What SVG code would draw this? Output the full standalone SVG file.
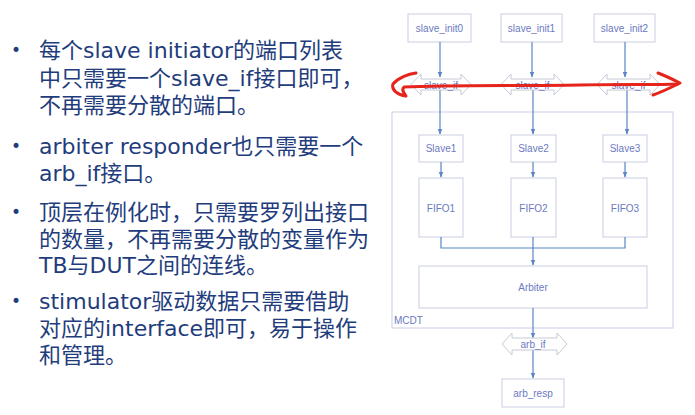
<svg xmlns="http://www.w3.org/2000/svg" width="695" height="415" viewBox="0 0 695 415">
<defs>
<style>
.bt{font-family:"DejaVu Sans","Noto Sans CJK SC",sans-serif;font-size:22px;fill:#1f3d7c}
.bul{font-family:"DejaVu Sans",sans-serif;font-size:17px;fill:#1f3d7c}
.box{fill:#fff;stroke:#c9cde2;stroke-width:1}
.lbl{font-family:"Liberation Sans",Arial,sans-serif;font-size:10px;fill:#6b79c2;text-anchor:middle;dominant-baseline:central}
.dbl{fill:#fff;fill-opacity:0.85;stroke:#c6cad6;stroke-width:1}
.con{fill:none;stroke:#5a86c4;stroke-width:1.2}
.red{fill:none;stroke:#e5251b;stroke-width:3;stroke-linecap:round;stroke-linejoin:round}
</style>
<marker id="ah" viewBox="0 0 10 10" refX="9" refY="5" markerWidth="6" markerHeight="6" orient="auto" markerUnits="userSpaceOnUse">
<path d="M0,1 L10,5 L0,9 Z" fill="#5a86c4"/>
</marker>
</defs>
<rect width="695" height="415" fill="#fff"/>

<g id="bullets">
<text class="bul" x="11" y="56">•</text>
<text class="bt" x="39" y="58">每个slave initiator的端口列表</text>
<text class="bt" x="39" y="86">中只需要一个slave_if接口即可，</text>
<text class="bt" x="39" y="113">不再需要分散的端口。</text>
<text class="bul" x="11" y="152">•</text>
<text class="bt" x="39" y="154">arbiter responder也只需要一个</text>
<text class="bt" x="39" y="181">arb_if接口。</text>
<text class="bul" x="11" y="218">•</text>
<text class="bt" x="39" y="220">顶层在例化时，只需要罗列出接口</text>
<text class="bt" x="39" y="247">的数量，不再需要分散的变量作为</text>
<text class="bt" x="39" y="273">TB与DUT之间的连线。</text>
<text class="bul" x="11" y="307">•</text>
<text class="bt" x="39" y="309">stimulator驱动数据只需要借助</text>
<text class="bt" x="39" y="336">对应的interface即可，易于操作</text>
<text class="bt" x="39" y="363">和管理。</text>
</g>

<g id="MCDT">
<rect class="box" x="392" y="112" width="281" height="216"/>
<text class="lbl" x="394" y="320" style="text-anchor:start">MCDT</text>
</g>

<g id="slave_init0"><rect class="box" x="408" y="14" width="63" height="28"/><text class="lbl" x="439.5" y="28">slave_init0</text></g>
<g id="slave_init1"><rect class="box" x="501" y="14" width="61" height="28"/><text class="lbl" x="531.5" y="28">slave_init1</text></g>
<g id="slave_init2"><rect class="box" x="594" y="14" width="61" height="28"/><text class="lbl" x="624.5" y="28">slave_init2</text></g>

<g id="Slave1"><rect class="box" x="419" y="135" width="44" height="27"/><text class="lbl" x="441" y="148.5">Slave1</text></g>
<g id="Slave2"><rect class="box" x="511" y="135" width="45" height="27"/><text class="lbl" x="533.5" y="148.5">Slave2</text></g>
<g id="Slave3"><rect class="box" x="603" y="135" width="44" height="27"/><text class="lbl" x="625" y="148.5">Slave3</text></g>

<g id="FIFO1"><rect class="box" x="419" y="178" width="44" height="59"/><text class="lbl" x="441" y="208">FIFO1</text></g>
<g id="FIFO2"><rect class="box" x="511" y="178" width="45" height="59"/><text class="lbl" x="533.5" y="208">FIFO2</text></g>
<g id="FIFO3"><rect class="box" x="603" y="178" width="44" height="59"/><text class="lbl" x="625" y="208">FIFO3</text></g>

<g id="Arbiter"><rect class="box" x="419" y="266" width="228" height="42"/><text class="lbl" x="533" y="287">Arbiter</text></g>

<g id="arb_resp"><rect class="box" x="502" y="379" width="62" height="28"/><text class="lbl" x="533" y="393">arb_resp</text></g>

<g id="connectors">
<path class="con" d="M440,42 V77" marker-end="url(#ah)"/>
<path class="con" d="M532,42 V77" marker-end="url(#ah)"/>
<path class="con" d="M625,42 V77" marker-end="url(#ah)"/>
<path class="con" d="M440,90 V134" marker-end="url(#ah)"/>
<path class="con" d="M533,90 V134" marker-end="url(#ah)"/>
<path class="con" d="M627,90 V134" marker-end="url(#ah)"/>
<path class="con" d="M441,162 V177" marker-end="url(#ah)"/>
<path class="con" d="M533,162 V177" marker-end="url(#ah)"/>
<path class="con" d="M625,162 V177" marker-end="url(#ah)"/>
<path class="con" d="M441,237 V248 H625 V237"/>
<path class="con" d="M533,237 V265" marker-end="url(#ah)"/>
<path class="con" d="M533,308 V338" marker-end="url(#ah)"/>
<path class="con" d="M533,350 V378" marker-end="url(#ah)"/>
</g>

<g id="slave_if0"><path class="dbl" d="M411,84.5 L421,74 V79 H461 V74 L471,84.5 L461,95 V90 H421 V95 Z"/><text class="lbl" x="441" y="85">slave_if</text></g>
<g id="slave_if1"><path class="dbl" d="M501,84.5 L511,74 V79 H554 V74 L564,84.5 L554,95 V90 H511 V95 Z"/><text class="lbl" x="532.5" y="85">slave_if</text></g>
<g id="slave_if2"><path class="dbl" d="M597,84.5 L607,74 V79 H650 V74 L660,84.5 L650,95 V90 H607 V95 Z"/><text class="lbl" x="628.5" y="85">slave_if</text></g>
<g id="arb_if"><path class="dbl" d="M502,344 L512,333 V338 H557 V333 L567,344 L557,355 V350 H512 V355 Z"/><text class="lbl" x="533" y="344">arb_if</text></g>

<g id="annotation">
<path class="red" d="M416,73 C408,74 398,78 393,84 C391,90 398,95 406,96 C404,93 401,90 404,87 C450,85 520,86 580,85 C620,84 655,85 678,84"/>
<path class="red" d="M658,73 C666,76 674,80 680,83 C672,87 662,92 653,95"/>
</g>
</svg>
